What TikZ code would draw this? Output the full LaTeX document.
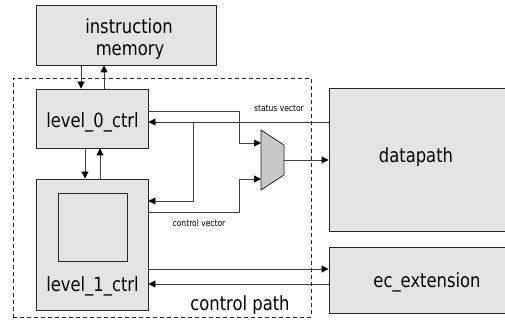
\documentclass[tikz,border=0pt]{standalone}
\usepackage{fontspec}
\setmainfont{DejaVu Sans}[FakeStretch=0.84]
\usetikzlibrary{arrows.meta}
\definecolor{boxfill}{RGB}{228,228,228}
\definecolor{muxfill}{RGB}{200,200,200}
\definecolor{wirecol}{RGB}{64,64,64}
\definecolor{edgecol}{RGB}{40,40,40}
\begin{document}
\begin{tikzpicture}[x=1pt,y=-1pt,
  box/.style={draw=edgecol, fill=boxfill, line width=0.9pt, inner sep=0pt},
  big/.style={font=\fontsize{19.5}{22}\selectfont, inner sep=0pt, anchor=base},
  small/.style={font=\fontsize{9}{10}\selectfont, inner sep=0pt, anchor=base},
  wire/.style={draw=wirecol, line width=0.9pt},
  arr/.style={wire, -{Triangle[length=7pt,width=7pt,color=black]}},
]
\useasboundingbox (0,0) rectangle (505,320);
\clip (0,0) rectangle (505,320);
\fill[white] (0,0) rectangle (505,320);

% control path frame
\node[draw=edgecol, line width=0.8pt, dash pattern=on 4pt off 3pt, minimum width=298pt, minimum height=239pt, inner sep=0pt] (cp) at (162,197.5) {};
\node[big] (cpt) at (240,310) {control path};

% boxes
\node[box, minimum width=180pt, minimum height=60pt] (im) at (126,35) {};
\node[big] (imt1) at (129,33.5) {instruction};
\node[big] (imt2) at (130,55.5) {memory};

\node[box, minimum width=112pt, minimum height=59pt] (l0) at (92,118.5) {};
\node[big] (l0t) at (92.5,127.7) {level\_0\_ctrl};

\node[box, minimum width=112pt, minimum height=131pt] (l1) at (92,244.5) {};
\node[box, minimum width=69pt, minimum height=68pt] (in) at (92.5,227) {};
\node[big] (l1t) at (92.5,291) {level\_1\_ctrl};

\node[box, minimum width=178pt, minimum height=143pt] (dp) at (418,159.5) {};
\node[big] (dpt) at (416,163) {datapath};

\node[box, minimum width=178pt, minimum height=66pt] (ec) at (418,280) {};
\node[big] (ect) at (427,287) {ec\_extension};

% multiplexer
\draw[fill=muxfill, draw=edgecol, line width=0.8pt] (261,130) -- (284,145) -- (284,175) -- (261,190) -- cycle;
\coordinate (mi1) at (261,143);
\coordinate (mi2) at (261,179);
\coordinate (mo) at (284,160);

% helper coordinates
\coordinate (v1) at (81,0);
\coordinate (v2) at (104,0);
\coordinate (v3) at (85,0);
\coordinate (v4) at (100,0);
\coordinate (h1) at (0,111);
\coordinate (h2) at (0,122);
\coordinate (h3) at (0,201);
\coordinate (h4) at (0,212);
\coordinate (h5) at (0,269);
\coordinate (h6) at (0,284);
\coordinate (xb) at (193,0);
\coordinate (c1) at (239,143);
\coordinate (c2) at (239,179);

% vertical links
\draw[arr] (im.south -| v1) -- (l0.north -| v1);
\draw[arr] (l0.north -| v2) -- (im.south -| v2);
\draw[arr] (l0.south -| v3) -- (l1.north -| v3);
\draw[arr] (l1.north -| v4) -- (l0.south -| v4);

% wires
\draw[arr] (l0.east |- h1) -| (c1) -- (mi1);
\draw[arr] (dp.west |- h2) -- (l0.east |- h2);
\draw[arr] (xb |- h2) |- (l1.east |- h3);
\draw[arr] (l1.east |- h4) -| (c2) -- (mi2);
\draw[arr] (mo) -- (dp.west |- mo);
\draw[arr] (l1.east |- h5) -- (ec.west |- h5);
\draw[arr] (ec.west |- h6) -- (l1.east |- h6);

\node[small] (sv) at (279,112) {status vector};
\node[small] (cv) at (199,226) {control vector};
\end{tikzpicture}
\end{document}
